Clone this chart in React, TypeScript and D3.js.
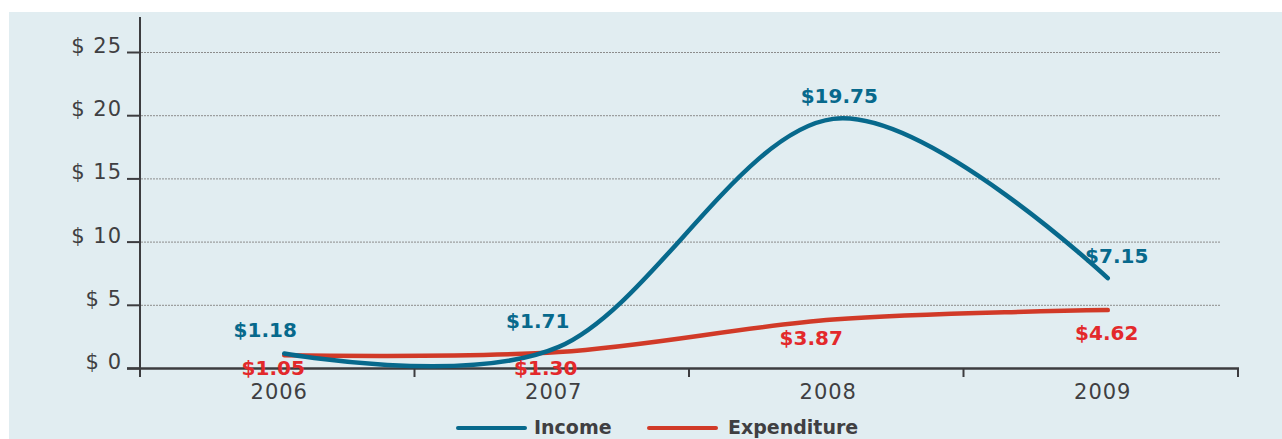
import React from 'react';
import * as d3 from 'd3';

const years = ['2006', '2007', '2008', '2009'];
const income = [1.18, 1.71, 19.75, 7.15];
const expenditure = [1.05, 1.3, 3.87, 4.62];
const yTicks = [0, 5, 10, 15, 20, 25];
const seriesNames = ['Income', 'Expenditure'];

// label placement offsets (relative to each point)
const incomeLabelDx = [-19, -21, 6, 9];
const incomeLabelDy = [-17, -19, -16, -15];
const expLabelDx = [-11, -13, -22, -1];
const expLabelDy = [20, 23, 25, 30];

const W = 1282;
const H = 439;
const INCOME_COLOR = '#07698c';
const EXP_LINE_COLOR = '#d13a28';
const EXP_TEXT_COLOR = '#e3292b';
const AXIS_COLOR = '#3c3c3f';
const TEXT_COLOR = '#3f3f42';
const BG = '#e1edf1';
const FONT = '"DejaVu Sans", sans-serif';

export default function App() {
  const x = d3.scaleBand<string>().domain(years).range([140, 1238]);
  const bw = x.bandwidth();
  const y = d3.scaleLinear().domain([0, 25]).range([368.5, 52.5]);
  const px = (i: number) => (x(years[i]) as number) + bw / 2 + 7;

  const line = d3
    .line<number>()
    .x((_, i) => px(i))
    .y((d) => y(d))
    .curve(d3.curveCardinal.tension(0));

  const axisY = y(0);

  return (
    <div style={{ position: 'fixed', left: 0, top: 0, width: W, height: H }}>
      <svg width={W} height={H} style={{ display: 'block' }}>
        <rect x={9} y={12} width={W - 9} height={H - 12} fill={BG} />

        {/* gridlines */}
        {yTicks
          .filter((t) => t > 0)
          .map((t) => (
            <line
              key={'g' + t}
              x1={141}
              x2={1220}
              y1={y(t)}
              y2={y(t)}
              stroke="#8c8c8c"
              strokeWidth={1}
              strokeDasharray="2 1"
            />
          ))}

        {/* y tick marks & labels */}
        {yTicks.map((t) => (
          <g key={'t' + t}>
            <line x1={127} x2={140} y1={y(t)} y2={y(t)} stroke={AXIS_COLOR} strokeWidth={2} />
            <text
              x={122}
              y={y(t) + 0.5}
              textAnchor="end"
              fontFamily={FONT}
              fontSize={21}
              letterSpacing={1}
              fill={TEXT_COLOR}
            >
              {'$ ' + t}
            </text>
          </g>
        ))}

        {/* axes */}
        <line x1={140} x2={140} y1={17} y2={377} stroke={AXIS_COLOR} strokeWidth={2} />
        <line x1={127} x2={1239} y1={axisY} y2={axisY} stroke={AXIS_COLOR} strokeWidth={2.3} />
        {years.map((yr) => (
          <line
            key={'xt' + yr}
            x1={(x(yr) as number) + bw}
            x2={(x(yr) as number) + bw}
            y1={axisY}
            y2={377}
            stroke={AXIS_COLOR}
            strokeWidth={2}
          />
        ))}
        {years.map((yr) => (
          <text
            key={'xl' + yr}
            x={(x(yr) as number) + bw / 2 + 2}
            y={399}
            textAnchor="middle"
            fontFamily={FONT}
            fontSize={21}
            letterSpacing={1}
            fill={TEXT_COLOR}
          >
            {yr}
          </text>
        ))}

        {/* lines */}
        <path d={line(expenditure) || ''} fill="none" stroke={EXP_LINE_COLOR} strokeWidth={4.5} strokeLinecap="round" />
        <path d={line(income) || ''} fill="none" stroke={INCOME_COLOR} strokeWidth={4.5} strokeLinecap="round" />

        {/* data labels */}
        {income.map((v, i) => (
          <text
            key={'il' + i}
            x={px(i) + incomeLabelDx[i]}
            y={y(v) + incomeLabelDy[i]}
            textAnchor="middle"
            fontFamily={FONT}
            fontWeight="bold"
            fontSize={20}
            fill={INCOME_COLOR}
          >
            {'$' + v.toFixed(2)}
          </text>
        ))}
        {expenditure.map((v, i) => (
          <text
            key={'el' + i}
            x={px(i) + expLabelDx[i]}
            y={y(v) + expLabelDy[i]}
            textAnchor="middle"
            fontFamily={FONT}
            fontWeight="bold"
            fontSize={20}
            fill={EXP_TEXT_COLOR}
          >
            {'$' + v.toFixed(2)}
          </text>
        ))}

        {/* legend */}
        <g>
          <line x1={458} x2={525} y1={428} y2={428} stroke={INCOME_COLOR} strokeWidth={4} strokeLinecap="round" />
          <text x={534} y={434} fontFamily={FONT} fontWeight="bold" fontSize={19} fill={TEXT_COLOR}>
            {seriesNames[0]}
          </text>
          <line x1={649} x2={716} y1={428} y2={428} stroke={EXP_LINE_COLOR} strokeWidth={4} strokeLinecap="round" />
          <text x={728} y={434} fontFamily={FONT} fontWeight="bold" fontSize={19} fill={TEXT_COLOR}>
            {seriesNames[1]}
          </text>
        </g>
      </svg>
    </div>
  );
}
